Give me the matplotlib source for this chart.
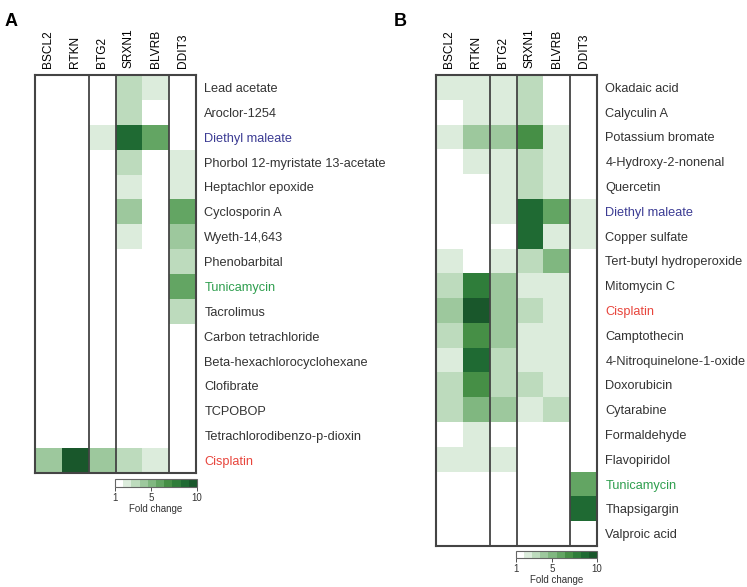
import matplotlib
matplotlib.use("Agg")
import matplotlib.pyplot as plt
from matplotlib.colors import ListedColormap, BoundaryNorm
import numpy as np

plt.rcParams["font.family"] = ["Liberation Sans", "DejaVu Sans"]

# genes (columns)
genes = ["BSCL2", "RTKN", "BTG2", "SRXN1", "BLVRB", "DDIT3"]
gene_colors = ["#e4514a", "#d9403a", "#444444", "#3b3b93", "#2f86d0", "#2e9e4e"]

# panel A
rows_a = ["Lead acetate", "Aroclor-1254", "Diethyl maleate", "Phorbol 12-myristate 13-acetate",
          "Heptachlor epoxide", "Cyclosporin A", "Wyeth-14,643", "Phenobarbital", "Tunicamycin",
          "Tacrolimus", "Carbon tetrachloride", "Beta-hexachlorocyclohexane", "Clofibrate",
          "TCPOBOP", "Tetrachlorodibenzo-p-dioxin", "Cisplatin"]
fold_a = [[1, 1, 1, 3, 2, 1],
          [1, 1, 1, 3, 1, 1],
          [1, 1, 2, 9, 6, 1],
          [1, 1, 1, 3, 1, 2],
          [1, 1, 1, 2, 1, 2],
          [1, 1, 1, 4, 1, 6],
          [1, 1, 1, 2, 1, 4],
          [1, 1, 1, 1, 1, 3],
          [1, 1, 1, 1, 1, 6],
          [1, 1, 1, 1, 1, 3],
          [1, 1, 1, 1, 1, 1],
          [1, 1, 1, 1, 1, 1],
          [1, 1, 1, 1, 1, 1],
          [1, 1, 1, 1, 1, 1],
          [1, 1, 1, 1, 1, 1],
          [4, 10, 4, 3, 2, 1]]

# panel B
rows_b = ["Okadaic acid", "Calyculin A", "Potassium bromate", "4-Hydroxy-2-nonenal", "Quercetin",
          "Diethyl maleate", "Copper sulfate", "Tert-butyl hydroperoxide", "Mitomycin C", "Cisplatin",
          "Camptothecin", "4-Nitroquinelone-1-oxide", "Doxorubicin", "Cytarabine", "Formaldehyde",
          "Flavopiridol", "Tunicamycin", "Thapsigargin", "Valproic acid"]
fold_b = [[2, 2, 2, 3, 1, 1],
          [1, 2, 2, 3, 1, 1],
          [2, 4, 4, 7, 2, 1],
          [1, 2, 2, 3, 2, 1],
          [1, 1, 2, 3, 2, 1],
          [1, 1, 2, 9, 6, 2],
          [1, 1, 1, 9, 2, 2],
          [2, 1, 2, 3, 5, 1],
          [3, 8, 4, 2, 2, 1],
          [4, 10, 4, 3, 2, 1],
          [3, 7, 4, 2, 2, 1],
          [2, 9, 3, 2, 2, 1],
          [3, 7, 3, 3, 2, 1],
          [3, 5, 4, 2, 3, 1],
          [1, 2, 1, 1, 1, 1],
          [2, 2, 2, 1, 1, 1],
          [1, 1, 1, 1, 1, 6],
          [1, 1, 1, 1, 1, 9],
          [1, 1, 1, 1, 1, 1]]

# special row label colours
row_colors = {"Diethyl maleate": "#3b3b93", "Tunicamycin": "#2e9e4e", "Cisplatin": "#e8453c"}

# discrete green scale, fold change 1..10
cmap = ListedColormap(["#ffffff", "#dcecdc", "#bddbbd", "#9dc89d", "#80b780",
                       "#63a563", "#468f46", "#2f7d3a", "#1f6a33", "#19572b"])
norm = BoundaryNorm(np.arange(0.5, 11.5, 1), cmap.N)
edge = "#444444"

fig = plt.figure(figsize=(7.47, 5.87), dpi=100)


def heat(rect, rows, data, cbrect):
    ax = fig.add_axes(rect)
    arr = np.array(data)
    ax.pcolormesh(arr, cmap=cmap, norm=norm)
    ax.set_xlim(0, 6)
    ax.set_ylim(len(rows), 0)
    for x in [2, 3, 5]:
        ax.axvline(x, color=edge, lw=1.3)
    for s in ax.spines.values():
        s.set_color(edge)
        s.set_linewidth(1.5)
    ax.set_xticks(np.arange(6) + 0.5)
    ax.set_xticklabels(genes, rotation=90, fontsize=8.6)
    for lab, c in zip(ax.get_xticklabels(), gene_colors):
        lab.set_color(c)
    ax.xaxis.tick_top()
    ax.tick_params(axis="x", length=0, pad=5)
    ax.yaxis.tick_right()
    ax.set_yticks(np.arange(len(rows)) + 0.5)
    ax.set_yticklabels(rows, fontsize=9.2)
    for lab in ax.get_yticklabels():
        lab.set_color(row_colors.get(lab.get_text(), "#333333"))
    ax.tick_params(axis="y", length=0, pad=6)

    # colour bar
    cax = fig.add_axes(cbrect)
    sm = plt.cm.ScalarMappable(cmap=cmap, norm=plt.Normalize(1, 10))
    cb = fig.colorbar(sm, cax=cax, orientation="horizontal",
                      boundaries=np.linspace(1, 10, 11), values=np.arange(1, 11))
    cb.set_ticks([1, 5, 10])
    cb.outline.set_edgecolor("#666666")
    cb.outline.set_linewidth(0.8)
    cax.tick_params(labelsize=7, length=3, width=0.6, pad=1, colors="#333333")
    cax.set_xlabel("Fold change", fontsize=7, labelpad=1, color="#333333")
    return ax


heat([0.0469, 0.1942, 0.2155, 0.678], rows_a, fold_a, [0.1540, 0.1704, 0.1098, 0.0136])
heat([0.5837, 0.0698, 0.2155, 0.8024], rows_b, fold_b, [0.6908, 0.0494, 0.1085, 0.012])

fig.text(0.006, 0.978, "A", fontsize=13, fontweight="bold", va="top")
fig.text(0.527, 0.978, "B", fontsize=13, fontweight="bold", va="top")

fig.savefig("out.png", dpi=100)
